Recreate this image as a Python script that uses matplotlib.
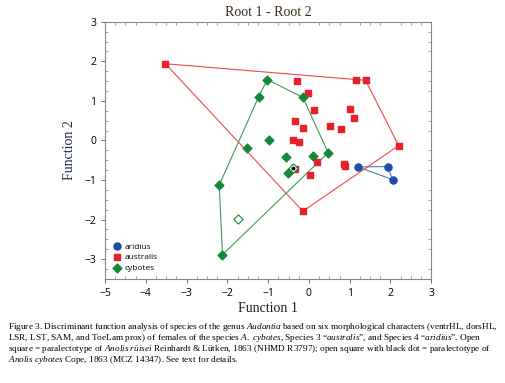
import matplotlib

matplotlib.use('Agg')
import matplotlib.pyplot as plt
from matplotlib.ticker import MultipleLocator

plt.rcParams['mathtext.fontset'] = 'custom'
plt.rcParams['mathtext.rm'] = 'Liberation Serif'
plt.rcParams['mathtext.it'] = 'Liberation Serif:italic'

# discriminant scores
aridius_x = [1.20, 1.93, 2.05]
aridius_y = [-0.67, -0.66, -0.99]

australis_x = [-3.52, 1.15, 1.39, -0.29, -0.02, 0.13, 1.00, 1.10, -0.33, -0.15,
               0.51, 0.78, 2.20, -0.39, -0.25, 0.20, 0.86, 0.88, 0.02, -0.15, -0.33]
australis_y = [1.94, 1.52, 1.52, 1.50, 1.21, 0.77, 0.79, 0.58, 0.49, 0.31,
               0.37, 0.29, -0.13, 0.00, -0.04, -0.54, -0.60, -0.64, -0.87, -1.79, -0.71]

cybotes_x = [-1.02, -1.23, -0.15, -0.97, -1.52, -0.57, 0.10, 0.47, -0.52, -2.20, -2.12]
cybotes_y = [1.54, 1.11, 1.09, 0.01, -0.18, -0.41, -0.39, -0.31, -0.82, -1.13, -2.89]

riisei_x, riisei_y = [-1.75], [-1.99]          # open diamond
cybotes_type_x, cybotes_type_y = [-0.39], [-0.69]  # open diamond with dot

CAPTION_LINES = [
    "Figure 3. Discriminant function analysis of species of the genus $\\it{Audantia}$ based on six morphological characters (ventrHL, dorsHL,",
    "LSR, LST, SAM, and ToeLam prox) of females of the species $\\it{A.\\ cybotes}$, Species 3 \u201c$\\it{australis}$\u201d, and Species 4 \u201c$\\it{aridius}$\u201d. Open",
    "square = paralectotype of $\\it{Anolis\\ r\u00fcisei}$ Reinhardt & L\u00fctken, 1863 (NHMD R3797); open square with black dot = paralectotype of",
    "$\\it{Anolis\\ cybotes}$ Cope, 1863 (MCZ 14347). See text for details.",
]


def hull(xs, ys):
    pts = sorted(set(zip(xs, ys)))

    def cross(o, a, b):
        return (a[0] - o[0]) * (b[1] - o[1]) - (a[1] - o[1]) * (b[0] - o[0])

    lower, upper = [], []
    for p in pts:
        while len(lower) >= 2 and cross(lower[-2], lower[-1], p) <= 0:
            lower.pop()
        lower.append(p)
    for p in reversed(pts):
        while len(upper) >= 2 and cross(upper[-2], upper[-1], p) <= 0:
            upper.pop()
        upper.append(p)
    h = lower[:-1] + upper[:-1]
    h.append(h[0])
    return [p[0] for p in h], [p[1] for p in h]


BLUE, RED, GREEN = "#1f4fa3", "#e8202a", "#14883a"

fig = plt.figure(figsize=(5.05, 3.83), dpi=100)
ax = fig.add_axes([0.208, 0.272, 0.646, 0.671])

for xs, ys, c in [(aridius_x, aridius_y, "#5577bb"),
                  (australis_x, australis_y, "#ee4a4a"),
                  (cybotes_x, cybotes_y, "#3c9a58")]:
    hx, hy = hull(xs, ys)
    ax.plot(hx, hy, color=c, lw=0.8, zorder=1)

ax.scatter(aridius_x, aridius_y, marker="o", s=26, color=BLUE, label="aridius", zorder=3)
ax.scatter(australis_x, australis_y, marker="s", s=24, color=RED, label="australis", zorder=3)
ax.scatter(cybotes_x, cybotes_y, marker="D", s=20, color=GREEN, label="cybotes", zorder=3)
ax.scatter(riisei_x, riisei_y, marker="D", s=22, facecolor="white", edgecolor=GREEN, lw=0.8, zorder=4)
ax.scatter(cybotes_type_x, cybotes_type_y, marker="D", s=22, facecolor="white", edgecolor=GREEN, lw=0.8, zorder=4)
ax.scatter(cybotes_type_x, cybotes_type_y, marker="o", s=3, color="black", zorder=5)

ax.set_xlim(-5, 3)
ax.set_ylim(-3.5, 3)
ax.xaxis.set_major_locator(MultipleLocator(1))
ax.yaxis.set_major_locator(MultipleLocator(1))
ax.xaxis.set_minor_locator(MultipleLocator(0.25))
ax.yaxis.set_minor_locator(MultipleLocator(0.25))
ax.tick_params(which="major", direction="out", length=3, width=0.6, labelsize=7.5, color="#555555")
ax.tick_params(which="minor", direction="in", length=2, width=0.5, top=True, right=True, color="#777777")
for lab in ax.get_xticklabels() + ax.get_yticklabels():
    lab.set_family("Open Sans")
for s in ax.spines.values():
    s.set_color("#888888")
    s.set_linewidth(0.8)

serif = "Liberation Serif"
ax.set_title("Root 1 - Root 2", fontsize=10, family=serif, pad=4, color="#3a2a1a")
ax.set_xlabel("Function 1", fontsize=10, family=serif, labelpad=2, color="#1a1a2a")
ax.set_ylabel("Function 2", fontsize=10, family=serif, labelpad=6, color="#1a2a4a")

leg = ax.legend(loc="lower left", frameon=False, handletextpad=0.3,
                labelspacing=0.35, borderaxespad=0.4, handlelength=1.2,
                prop={"family": "Open Sans", "size": 6})

for i, line in enumerate(CAPTION_LINES):
    fig.text(0.016, 0.146 - i * 0.0285, line, fontsize=6.65, family=serif,
             va="center", ha="left")

fig.savefig("out.png", dpi=100)
